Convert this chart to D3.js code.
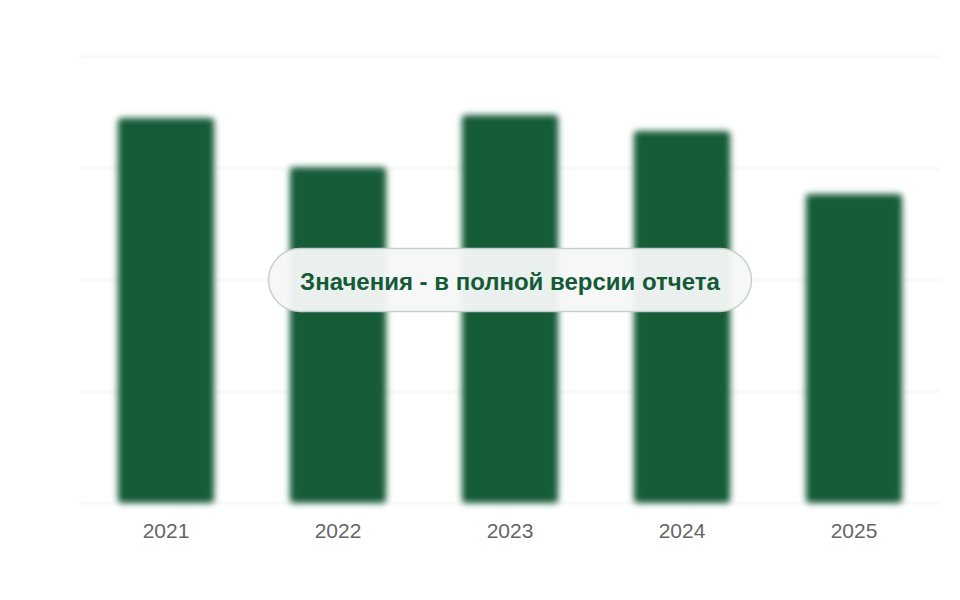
<!DOCTYPE html>
<html>
<head>
<meta charset="utf-8">
<script src="https://cdn.jsdelivr.net/npm/d3@7/dist/d3.min.js"></script>
<style>
html,body{margin:0;padding:0;background:#fff;}
svg{display:block;font-family:"Liberation Sans",Arial,sans-serif;}
</style>
</head>
<body>
<svg id="chart" width="960" height="600"></svg>
<script>
const categories = ["2021", "2022", "2023", "2024", "2025"];
const values = [86.3, 75.3, 87.0, 83.4, 69.3];
const yTicks = [0, 25, 50, 75, 100];
const overlayText = "Значения - в полной версии отчета";

const svg = d3.select("#chart");
const margin = {left: 80, right: 20, top: 57, bottom: 97};
const W = 960, H = 600;

const x = d3.scaleBand().domain(categories)
  .range([margin.left, W - margin.right])
  .paddingInner(0.44).paddingOuter(0.22);
const y = d3.scaleLinear().domain([0, 100]).range([H - margin.bottom, margin.top]);

const defs = svg.append("defs");
defs.append("filter").attr("id", "blur").attr("x", "-20%").attr("y", "-20%").attr("width", "140%").attr("height", "140%")
  .append("feGaussianBlur").attr("stdDeviation", 3);
defs.append("filter").attr("id", "blurG").attr("x", "-5%").attr("y", "-500%").attr("width", "110%").attr("height", "1100%")
  .append("feGaussianBlur").attr("stdDeviation", 1.5);

// gridlines
svg.append("g").attr("filter", "url(#blurG)")
  .selectAll("line").data(yTicks).join("line")
  .attr("x1", margin.left).attr("x2", W - margin.right)
  .attr("y1", d => y(d)).attr("y2", d => y(d))
  .attr("stroke", "#f3f3f3").attr("stroke-width", 2);

// bars
svg.append("g").attr("filter", "url(#blur)")
  .selectAll("rect").data(categories).join("rect")
  .attr("x", d => x(d))
  .attr("width", x.bandwidth())
  .attr("y", (d, i) => y(values[i]))
  .attr("height", (d, i) => y(0) - y(values[i]))
  .attr("rx", 4)
  .attr("fill", "#155c38");

// x axis labels
const xAxis = d3.axisBottom(x).tickSize(0).tickPadding(0);
const gx = svg.append("g").attr("transform", `translate(0,${y(0) + 20})`).call(xAxis);
gx.select(".domain").remove();
gx.selectAll("text")
  .attr("font-size", 21)
  .attr("fill", "#666")
  .attr("font-family", "'Liberation Sans', Arial, sans-serif");

// overlay
const ov = svg.append("g");
ov.append("rect")
  .attr("x", 268.5).attr("y", 248.5).attr("width", 483).attr("height", 63)
  .attr("rx", 31.5)
  .attr("fill", "rgba(246,248,247,0.95)")
  .attr("stroke", "#c5d1ca").attr("stroke-width", 1.5);
ov.append("text")
  .attr("x", 510).attr("y", 281)
  .attr("text-anchor", "middle").attr("dominant-baseline", "central")
  .attr("font-size", 24).attr("font-weight", "bold")
  .attr("fill", "#155a36")
  .text(overlayText);
</script>
</body>
</html>
